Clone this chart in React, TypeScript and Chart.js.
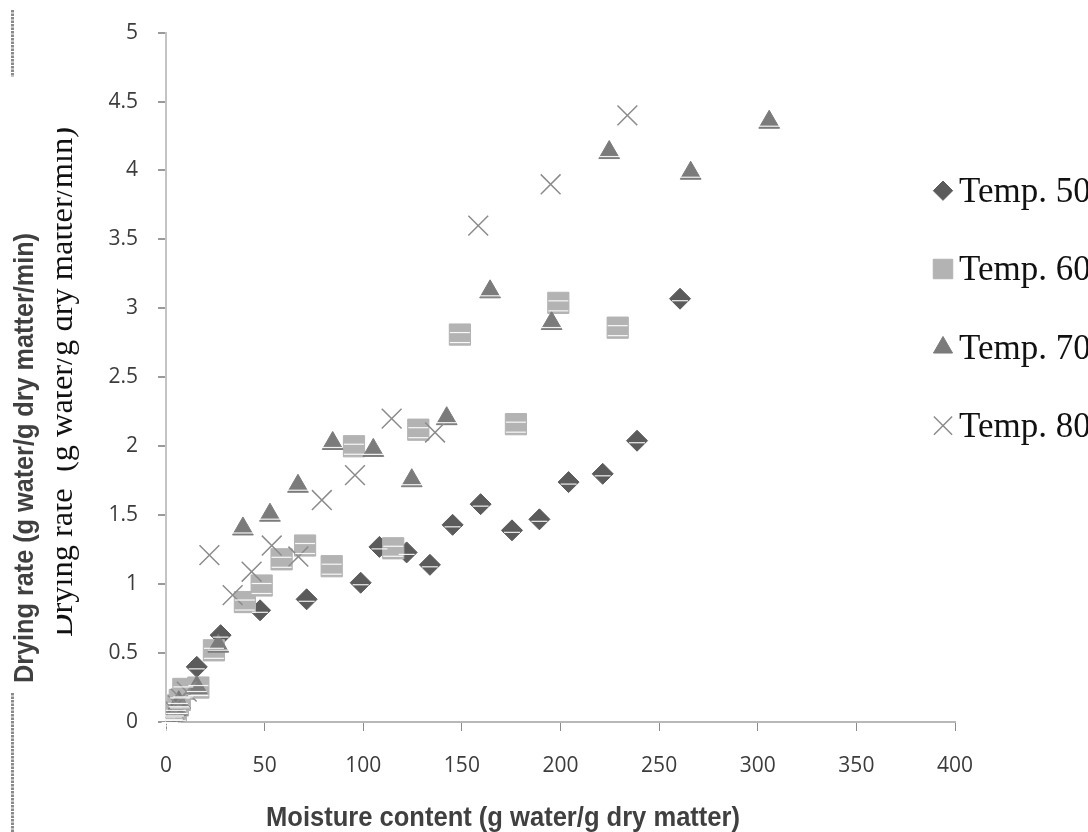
import React, { useEffect, useRef } from "react";
import { Chart, registerables } from "chart.js";
import { drawPoint } from "chart.js/helpers";

Chart.register(...registerables);

// ---- data ----
const seriesNames = ["Temp. 50", "Temp. 60", "Temp. 70", "Temp. 80"];

const t50X = [260.6, 238.8, 221.4, 204.1, 189.3, 175.4, 159.5, 145.3, 133.8, 122.0, 108.2, 98.7, 71.3, 47.7, 27.7, 15.6, 4, 2];
const t50Y = [3.07, 2.04, 1.8, 1.74, 1.47, 1.39, 1.58, 1.43, 1.14, 1.23, 1.27, 1.01, 0.89, 0.81, 0.63, 0.4, 0.05, 0.01];

const t60X = [198.9, 229.0, 149.0, 177.4, 127.9, 95.3, 115.2, 84.0, 70.5, 58.6, 48.5, 40.0, 24.3, 16.4, 8.8, 7, 6, 5, 4, 3];
const t60Y = [3.04, 2.86, 2.81, 2.16, 2.12, 2.0, 1.26, 1.13, 1.28, 1.18, 0.99, 0.87, 0.52, 0.25, 0.24, 0.16, 0.12, 0.07, 0.03, 0.0];

const t70X = [305.8, 266, 224.7, 164.3, 195.5, 142.3, 84.5, 105.1, 124.6, 66.9, 52.7, 39, 26.5, 15.6, 6.5, 5, 3.5, 2.5];
const t70Y = [4.35, 3.98, 4.13, 3.12, 2.89, 2.2, 2.02, 1.97, 1.75, 1.71, 1.5, 1.4, 0.55, 0.25, 0.14, 0.09, 0.05, 0.02];

const t80X = [233.9, 195, 158.3, 136.4, 114.4, 95.8, 79, 53.6, 67.1, 22, 43.4, 33.8, 10.5, 7.5, 6, 4.5, 3, 2];
const t80Y = [4.4, 3.9, 3.6, 2.1, 2.2, 1.79, 1.61, 1.28, 1.2, 1.21, 1.09, 0.92, 0.22, 0.17, 0.12, 0.08, 0.04, 0.0];

const xTitle = "Moisture content (g water/g dry matter)";
const yTitleBold = "Drying rate (g water/g dry matter/min)";
const yTitleSerif = "Drying rate  (g water/g dry matter/min)";

const styles = [
  { pointStyle: "rectRot", radius: 10.5, bg: "#5b5b5b", border: "#5b5b5b", bw: 1 },
  { pointStyle: "rect", radius: 15, bg: "#b3b3b3", border: "#b3b3b3", bw: 1 },
  { pointStyle: "triangle", radius: 12, bg: "#7b7b7b", border: "#7b7b7b", bw: 1 },
  { pointStyle: "crossRot", radius: 14, bg: "#8c8c8c", border: "#8c8c8c", bw: 1.5 },
];

const toPts = (xs: number[], ys: number[]) => xs.map((x, i) => ({ x, y: ys[i] }));

function fitText(ctx: CanvasRenderingContext2D, text: string, x: number, y: number, width: number, rotate: boolean) {
  ctx.save();
  ctx.translate(x, y);
  if (rotate) ctx.rotate(-Math.PI / 2);
  const w = ctx.measureText(text).width;
  ctx.scale(width / w, 1);
  ctx.textAlign = "center";
  ctx.textBaseline = "alphabetic";
  ctx.fillText(text, 0, 0);
  ctx.restore();
}

const overlayPlugin = {
  id: "overlay",
  afterDatasetsDraw(chart: any) {
    const ctx: CanvasRenderingContext2D = chart.ctx;
    ctx.save();
    ctx.strokeStyle = "rgba(255,255,255,0.9)";
    ctx.lineWidth = 1.2;
    chart.data.datasets.forEach((ds: any, di: number) => {
      if (di === 3) return;
      const meta = chart.getDatasetMeta(di);
      meta.data.forEach((el: any) => {
        const offs = di === 0 ? [2] : di === 1 ? [-2, 8] : [4];
        const half = di === 0 ? 8 : 10;
        offs.forEach((o) => {
          ctx.beginPath();
          ctx.moveTo(el.x - half, el.y + o);
          ctx.lineTo(el.x + half, el.y + o);
          ctx.stroke();
        });
      });
    });
    ctx.restore();
  },
  afterDraw(chart: any) {
    const ctx: CanvasRenderingContext2D = chart.ctx;
    // dotted box edges on the far left
    ctx.save();
    ctx.strokeStyle = "#8a8a8a";
    ctx.lineWidth = 3;
    ctx.setLineDash([2.5, 1]);
    ctx.beginPath();
    ctx.moveTo(12.5, 10);
    ctx.lineTo(12.5, 77);
    ctx.moveTo(12.5, 693);
    ctx.lineTo(12.5, 832);
    ctx.stroke();
    ctx.restore();

    // bold y title
    ctx.save();
    ctx.fillStyle = "#404040";
    ctx.font = "bold 27px 'Liberation Sans', Arial, sans-serif";
    fitText(ctx, yTitleBold, 33, 458, 450, true);
    ctx.restore();

    // serif y title (clipped on its left side)
    ctx.save();
    ctx.beginPath();
    ctx.rect(57, 0, 60, 832);
    ctx.clip();
    ctx.fillStyle = "#111";
    ctx.font = "32px 'Liberation Serif', 'Times New Roman', serif";
    fitText(ctx, yTitleSerif, 72, 382, 510, true);
    ctx.restore();

    // x title
    ctx.save();
    ctx.fillStyle = "#404040";
    ctx.font = "bold 27px 'Liberation Sans', Arial, sans-serif";
    fitText(ctx, xTitle, 503, 826, 474, false);
    ctx.restore();

    // legend
    const baselines = [201.7, 280, 358.5, 436.7];
    seriesNames.forEach((name, i) => {
      const st = styles[i];
      ctx.save();
      ctx.fillStyle = st.bg;
      ctx.strokeStyle = st.border;
      ctx.lineWidth = st.bw;
      drawPoint(ctx, { pointStyle: st.pointStyle as any, radius: st.radius * 0.92, rotation: 0, borderWidth: st.bw } as any, 943, baselines[i] - 11);
      ctx.restore();
      ctx.save();
      ctx.fillStyle = "#111";
      ctx.font = "35px 'Liberation Serif', 'Times New Roman', serif";
      ctx.textAlign = "left";
      ctx.textBaseline = "alphabetic";
      ctx.fillText(name, 959, baselines[i]);
      ctx.restore();
    });
  },
};

export default function App() {
  const ref = useRef<HTMLCanvasElement | null>(null);
  useEffect(() => {
    if (!ref.current) return;
    const allX = [t50X, t60X, t70X, t80X];
    const allY = [t50Y, t60Y, t70Y, t80Y];
    const chart = new Chart(ref.current, {
      type: "scatter",
      data: {
        datasets: seriesNames.map((name, i) => ({
          label: name,
          data: toPts(allX[i], allY[i]),
          pointStyle: styles[i].pointStyle as any,
          pointRadius: styles[i].radius,
          pointHoverRadius: styles[i].radius,
          backgroundColor: styles[i].bg,
          borderColor: styles[i].border,
          pointBorderWidth: styles[i].bw,
          borderWidth: styles[i].bw,
          showLine: false,
          order: 3 - i,
        })),
      },
      options: {
        responsive: false,
        animation: false,
        devicePixelRatio: 1,
        events: [],
        layout: { padding: { top: 24, right: 133, left: 0, bottom: 0 } },
        plugins: {
          legend: { display: false },
          tooltip: { enabled: false },
          title: { display: false },
        },
        scales: {
          x: {
            type: "linear",
            min: 0,
            max: 400,
            afterFit: (s: any) => {
              s.height = 110;
            },
            ticks: {
              stepSize: 50,
              padding: 22,
              color: "#3c3c3c",
              font: { family: "'Open Sans', sans-serif", size: 21 },
              callback: (v: any) => String(v),
            },
            grid: { drawOnChartArea: false, drawTicks: true, tickLength: 9, color: "#8a8a8a", lineWidth: 1 },
            border: { display: true, color: "#b8b8b8", width: 2 },
          },
          y: {
            type: "linear",
            min: 0,
            max: 5,
            afterFit: (s: any) => {
              s.width = 166;
            },
            ticks: {
              stepSize: 0.5,
              padding: 20,
              color: "#3c3c3c",
              font: { family: "'Open Sans', sans-serif", size: 21 },
              callback: (v: any) => String(v),
            },
            grid: { drawOnChartArea: false, drawTicks: true, tickLength: 8, color: "#9a9a9a", lineWidth: 2 },
            border: { display: true, color: "#c4c4c4", width: 2 },
          },
        },
      },
      plugins: [overlayPlugin],
    });
    return () => chart.destroy();
  }, []);
  return (
    <div style={{ position: "fixed", left: 0, top: 0, width: 1088, height: 832, background: "#fff" }}>
      <canvas ref={ref} width={1088} height={832} style={{ width: 1088, height: 832, display: "block" }} />
    </div>
  );
}
